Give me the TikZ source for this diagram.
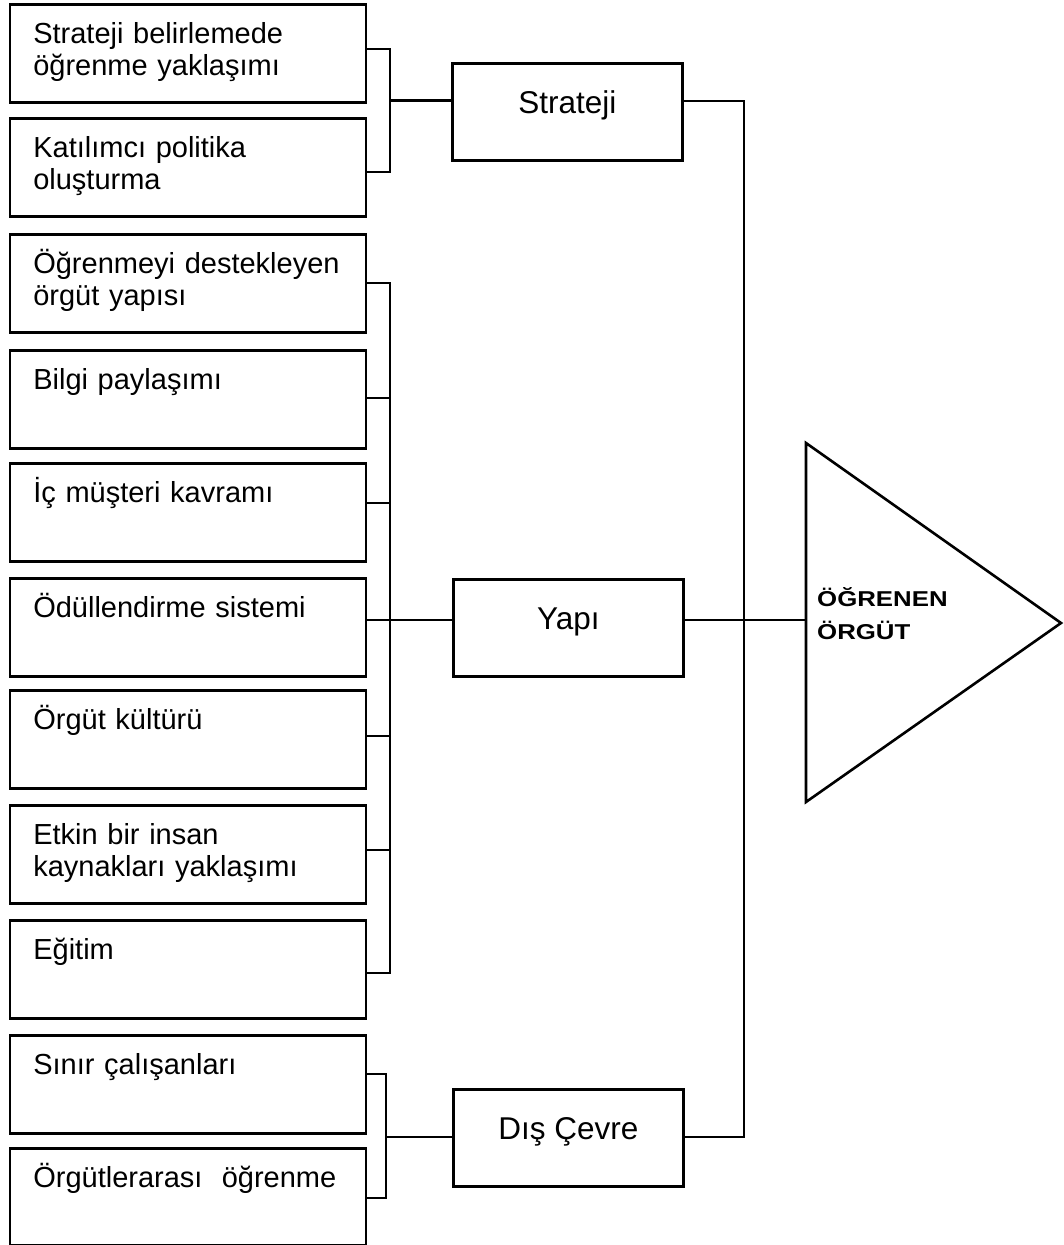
\documentclass[tikz,border=0pt]{standalone}
\usepackage{fontspec}
\setmainfont{Liberation Sans}
\newfontfamily\trifont[FakeStretch=1.2]{Liberation Sans}
\usetikzlibrary{calc}
\begin{document}
\begin{tikzpicture}[x=1pt,y=-1pt,
  itembox/.style={draw, line width=2.6pt, anchor=north west,
    inner xsep=23.5pt, inner ysep=0pt, text width=309pt, align=left,
    text height=39.5pt, text depth=58.5pt,
    font=\fontsize{29}{32}\selectfont},
  mainbox/.style={draw, line width=2.6pt, anchor=north west,
    minimum width=230pt, inner ysep=0pt,
    text height=50pt, text depth=47pt,
    font=\fontsize{31.5}{36}\selectfont},
  conn/.style={line width=2.1pt},
  tri/.style={draw, line width=2.6pt, line join=miter}]
\useasboundingbox (0,0) rectangle (1064,1245);

% strategy group
\node[itembox] (s1) at (8.5,3)   {Strateji belirlemede\\öğrenme yaklaşımı};
\node[itembox] (s2) at (8.5,117) {Katılımcı politika\\oluşturma};

% structure group
\node[itembox] (y1) at (8.5,233) {Öğrenmeyi destekleyen\\örgüt yapısı};
\node[itembox] (y2) at (8.5,349) {Bilgi paylaşımı};
\node[itembox] (y3) at (8.5,462) {İç müşteri kavramı};
\node[itembox] (y4) at (8.5,577) {Ödüllendirme sistemi};
\node[itembox] (y5) at (8.5,689) {Örgüt kültürü};
\node[itembox] (y6) at (8.5,804) {Etkin bir insan\\kaynakları yaklaşımı};
\node[itembox] (y7) at (8.5,919) {Eğitim};

% environment group
\node[itembox] (d1) at (8.5,1034) {Sınır çalışanları};
\node[itembox, text depth=57pt] (d2) at (8.5,1147) {Örgütlerarası\ \ öğrenme};

% the three dimensions
\node[mainbox] (strat) at (451,62)   {Strateji};
\node[mainbox] (yapi)  at (452,578)  {Yapı};
\node[mainbox] (dis)   at (452,1088) {Dış Çevre};

% the learning organisation
\coordinate (tA) at (806,443);
\coordinate (tB) at (806,802);
\coordinate (tC) at (1061,623);
\coordinate (triw) at (806,620);
\draw[tri] (tA) -- (tC) -- (tB) -- cycle;
\node[anchor=base west, inner sep=0pt,
  font=\trifont\bfseries\fontsize{21.5}{33}\selectfont] (org) at (817,606)
  {\vtop{\hbox{ÖĞRENEN}\hbox{ÖRGÜT}}};

% junction points
\coordinate (jS) at (390,100.5);
\coordinate (jY) at (387,620);
\coordinate (jD) at (387,1137);
\coordinate (bus) at (744,620);

% strategy bracket
\draw[conn] ($(s1.north east)+(0,46)$) -| (jS) |- ($(s2.north east)+(0,55)$);
\draw[conn] (jS) -- (strat.west |- jS);

% structure bracket
\draw[conn] ($(y1.north east)+(0,50)$) -| ($(y7.north east)+(22.5,54)$)
  -- ($(y7.north east)+(0,54)$);
\draw[conn] ($(y2.north east)+(0,49)$) -- +(22.5,0);
\draw[conn] ($(y3.north east)+(0,41)$) -- +(22.5,0);
\draw[conn] ($(y5.north east)+(0,47)$) -- +(22.5,0);
\draw[conn] ($(y6.north east)+(0,46)$) -- +(22.5,0);
\draw[conn] (y4.east |- jY) -- (yapi.west |- jY);

% environment bracket
\draw[conn] ($(d1.north east)+(0,40)$) -| ($(d2.north east)+(18.5,51)$)
  -- ($(d2.north east)+(0,51)$);
\draw[conn] (jD) -- (dis.west |- jD);

% right-hand bus into the triangle
\draw[conn] (strat.east |- 0,101) -| (bus) |- (dis.east |- jD);
\draw[conn] (yapi.east |- jY) -- (triw);
\end{tikzpicture}
\end{document}
